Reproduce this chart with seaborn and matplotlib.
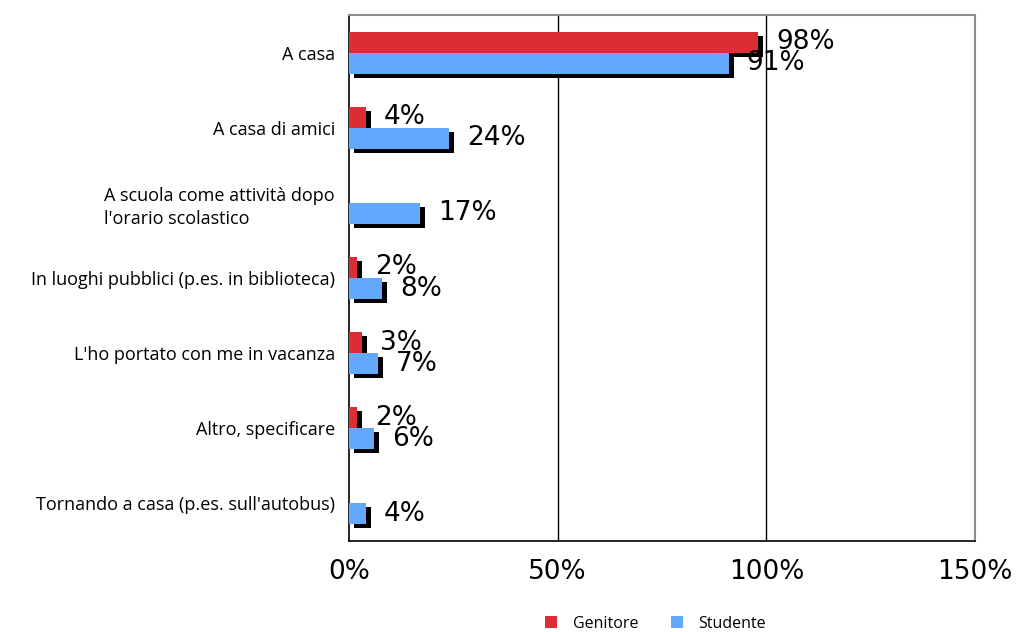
import numpy as np
import pandas as pd
import matplotlib
matplotlib.use("Agg")
import matplotlib.pyplot as plt
import matplotlib.transforms as mtransforms
import seaborn as sns

categories = [
    "A casa",
    "A casa di amici",
    "A scuola come attività dopo\nl'orario scolastico",
    "In luoghi pubblici (p.es. in biblioteca)",
    "L'ho portato con me in vacanza",
    "Altro, specificare",
    "Tornando a casa (p.es. sull'autobus)",
]
genitore = [98, 4, 0, 2, 3, 2, 0]
studente = [91, 24, 17, 8, 7, 6, 4]
series_names = ["Genitore", "Studente"]
colors = ["#DC2D35", "#62A9FD"]

df = pd.DataFrame({
    "cat": categories * 2,
    "val": genitore + studente,
    "serie": [series_names[0]] * len(categories) + [series_names[1]] * len(categories),
})

sns.set_style("white")
plt.rcParams["font.family"] = ["DejaVu Sans"]
plt.rcParams["text.color"] = "black"
plt.rcParams["xtick.color"] = "black"
plt.rcParams["ytick.color"] = "black"

fig = plt.figure(figsize=(10.17, 6.32), dpi=100)
ax = fig.add_axes([349 / 1017, 1 - 541 / 632, (975 - 349) / 1017, (541 - 15) / 632])

# shadows
sns.barplot(data=df, y="cat", x="val", hue="serie", order=categories,
            hue_order=series_names, palette=["black", "black"], orient="h",
            width=0.56, ax=ax, legend=False, errorbar=None, saturation=1)
shadow_patches = list(ax.patches)
off = mtransforms.offset_copy(ax.transData, fig=fig, x=5, y=-4, units="dots")
for p in shadow_patches:
    p.set_transform(off)
    p.set_linewidth(0)
    p.set_zorder(2)

sns.barplot(data=df, y="cat", x="val", hue="serie", order=categories,
            hue_order=series_names, palette=colors, orient="h",
            width=0.56, ax=ax, errorbar=None, saturation=1)
main_patches = [p for p in ax.patches if p not in shadow_patches]
for p in main_patches:
    p.set_linewidth(0)
    p.set_zorder(3)

# value labels
n = len(categories)
for j, vals in enumerate([genitore, studente]):
    for i, v in enumerate(vals):
        if v == 0:
            continue
        yc = i + (-0.14 if j == 0 else 0.14)
        ax.annotate(f"{v}%", xy=(v, yc), xytext=(13, 0),
                    textcoords="offset points", ha="left", va="center",
                    fontsize=19, color="black", zorder=5)

ax.set_xlim(0, 150)
ax.set_ylim(n - 0.5, -0.5)
ax.set_xticks([0, 50, 100, 150])
ax.set_xticklabels(["0%", "50%", "100%", "150%"], fontsize=19, color="black")
ax.set_yticks(range(n))
ax.set_yticklabels(categories, fontsize=13, family="Open Sans", ha="right",
                   linespacing=1.35, multialignment="left", color="black")
ax.tick_params(axis="y", which="major", length=0, pad=10)
ax.set_yticks(np.arange(-0.5, n, 1.0), minor=True)
ax.tick_params(axis="y", which="minor", length=8, width=1, color="black", direction="out")
ax.tick_params(axis="x", which="major", length=8, width=1, color="black",
               direction="out", pad=5)
ax.set_xlabel("")
ax.set_ylabel("")

for x in [50, 100]:
    ax.axvline(x, color="black", lw=1, zorder=1)

for s in ["left", "bottom"]:
    ax.spines[s].set_color("black")
    ax.spines[s].set_linewidth(1.2)
for s in ["top", "right"]:
    ax.spines[s].set_color("#8c8c8c")
    ax.spines[s].set_linewidth(1.5)

leg = ax.legend(loc="center", bbox_to_anchor=(0.49, -0.157), ncol=2,
                frameon=False, fontsize=11.5, handlelength=0.75, handleheight=0.75,
                columnspacing=2.0, handletextpad=1.0)
for t in leg.get_texts():
    t.set_family("Open Sans")
    t.set_color("black")

fig.savefig("out.png", dpi=100)
